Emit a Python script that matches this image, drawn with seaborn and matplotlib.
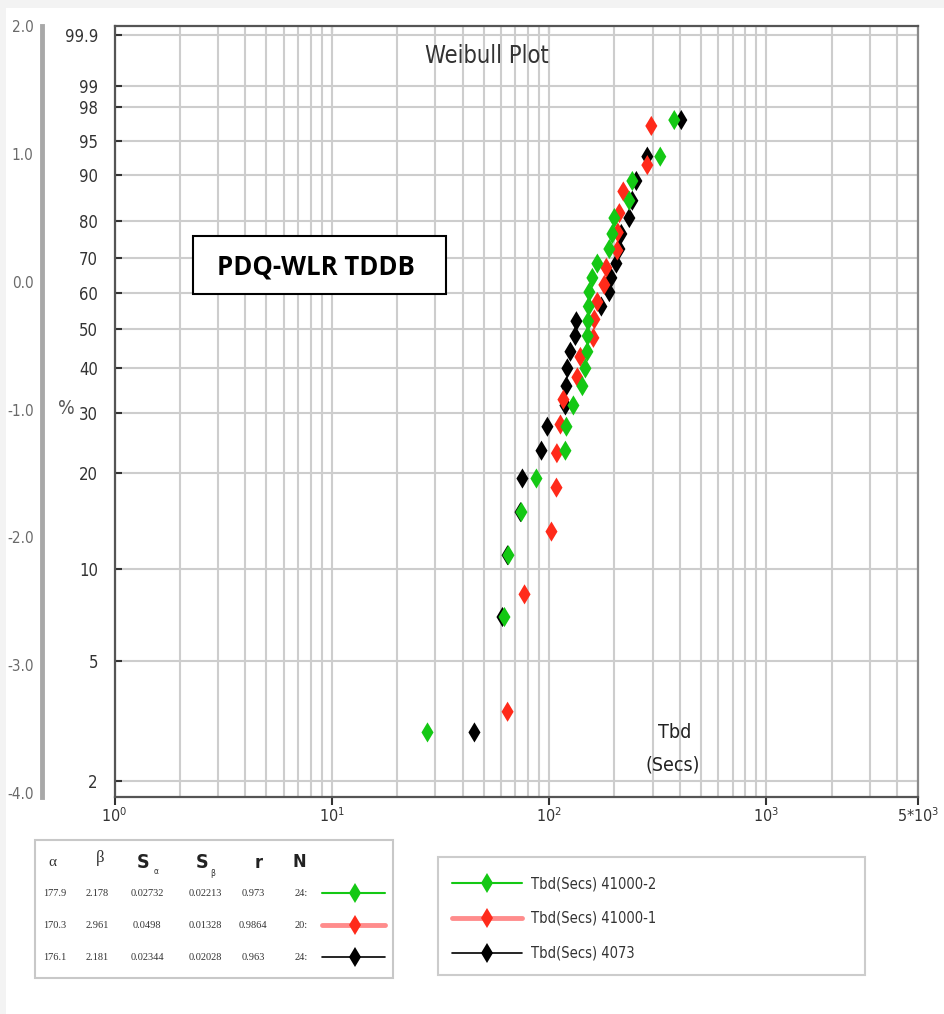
import numpy as np
import pandas as pd
import matplotlib
matplotlib.use("Agg")
import matplotlib.pyplot as plt
import seaborn as sns
from matplotlib import font_manager
from matplotlib.lines import Line2D
from matplotlib.patches import Rectangle
from matplotlib.ticker import NullFormatter, NullLocator, LogLocator

sns.set_theme(style="white")
_names = {f.name for f in font_manager.fontManager.ttflist}
NARROW = "Liberation Sans Narrow" if "Liberation Sans Narrow" in _names else "DejaVu Sans"
plt.rcParams["font.family"] = [NARROW, "DejaVu Sans"]
plt.rcParams["font.stretch"] = "condensed"

# ---------------- data ----------------
series_names = ["Tbd(Secs) 41000-2", "Tbd(Secs) 41000-1", "Tbd(Secs) 4073"]
series_colors = ["#14c814", "#ff2a1a", "#000000"]
legend_line_colors = ["#14c814", "#ff8c8c", "#000000"]

green_time = [27.6, 62.4, 65.1, 74.7, 87.6, 119.1, 120.4, 129.6, 142.6, 147.2, 150.3, 150.8,
              151.5, 152.5, 153.5, 158.5, 167.1, 189.7, 195.9, 200.1, 234.5, 242.1, 325.5, 377.6]
green_pct = [2.9, 7.0, 11.1, 15.2, 19.3, 23.4, 27.5, 31.6, 35.7, 39.8, 43.9, 48.0,
             52.0, 56.1, 60.2, 64.3, 68.4, 72.5, 76.6, 80.7, 84.8, 88.9, 93.0, 97.1]

red_time = [64.5, 77.2, 102.7, 108.3, 108.8, 113.0, 116.6, 135.2, 139.6, 160.2,
            161.9, 167.1, 179.9, 183.8, 206.5, 207.5, 211.0, 220.0, 283.8, 296.0]
red_pct = [3.4, 8.3, 13.2, 18.1, 23.0, 27.9, 32.8, 37.7, 42.6, 47.5,
           52.5, 57.4, 62.3, 67.2, 72.1, 77.0, 81.9, 86.8, 91.7, 96.6]

black_time = [45.4, 61.1, 64.5, 74.0, 75.5, 92.4, 98.4, 119.1, 120.4, 121.6, 125.6, 132.4,
              133.8, 174.3, 189.7, 193.8, 204.4, 211.0, 215.4, 234.5, 242.1, 252.6, 283.8, 406.7]
black_pct = [2.9, 7.0, 11.1, 15.2, 19.3, 23.4, 27.5, 31.6, 35.7, 39.8, 43.9, 48.0,
             52.0, 56.1, 60.2, 64.3, 68.4, 72.5, 76.6, 80.7, 84.8, 88.9, 93.0, 97.1]

pct_ticks = [2, 5, 10, 20, 30, 40, 50, 60, 70, 80, 90, 95, 98, 99, 99.9]
pct_labels = ["2", "5", "10", "20", "30", "40", "50", "60", "70", "80", "90", "95", "98", "99", "99.9"]
weib_ticks = [-4, -3, -2, -1, 0, 1, 2]
weib_labels = ["-4.0", "-3.0", "-2.0", "-1.0", "0.0", "1.0", "2.0"]
x_ticks = [1, 10, 100, 1000, 5000]
x_labels = [r"$\mathregular{10^{0}}$", r"$\mathregular{10^{1}}$", r"$\mathregular{10^{2}}$",
            r"$\mathregular{10^{3}}$", r"$\mathregular{5{*}10^{3}}$"]

table_header = ["α", "β", "S", "S", "r", "N"]
table_rows = [
    ["177.9", "2.178", "0.02732", "0.02213", "0.973", "24:"],
    ["170.3", "2.961", "0.0498", "0.01328", "0.9864", "20:"],
    ["176.1", "2.181", "0.02344", "0.02028", "0.963", "24:"],
]

# ---------------- figure ----------------
W_PX, H_PX = 944, 1014
fig = plt.figure(figsize=(W_PX / 100, H_PX / 100), dpi=100)
fig.patch.set_facecolor("#f3f3f3")


def P(x, y):
    return (x / W_PX, 1 - y / H_PX)


fig.add_artist(Rectangle((6 / W_PX, 0), 1, 1 - 8 / H_PX, transform=fig.transFigure,
                         facecolor="white", edgecolor="none", zorder=-5))

L, R, T, B = 114.5, 918, 26, 797
ax = fig.add_axes([L / W_PX, 1 - B / H_PX, (R - L) / W_PX, (B - T) / H_PX])

df = pd.concat([
    pd.DataFrame({"time": black_time, "pct": black_pct, "series": series_names[2]}),
    pd.DataFrame({"time": red_time, "pct": red_pct, "series": series_names[1]}),
    pd.DataFrame({"time": green_time, "pct": green_pct, "series": series_names[0]}),
], ignore_index=True)

sns.scatterplot(data=df, x="time", y="pct", hue="series", hue_order=series_names,
                palette=dict(zip(series_names, series_colors)), marker="d", s=105,
                linewidth=0, legend=False, ax=ax, zorder=3)


def fwd(p):
    p = np.asarray(p, dtype=float)
    with np.errstate(all="ignore"):
        return np.log(-np.log(1 - p / 100.0))


def inv(y):
    y = np.asarray(y, dtype=float)
    with np.errstate(all="ignore"):
        return 100.0 * (1 - np.exp(-np.exp(y)))


ax.set_xscale("log")
ax.set_xlim(1, 5000)
ax.set_yscale("function", functions=(fwd, inv))
ax.set_ylim(float(inv(-4.031)), float(inv(2.0)))
ax.set_yticks(pct_ticks)
ax.set_yticklabels(pct_labels)
ax.yaxis.set_minor_locator(NullLocator())
ax.set_xticks(x_ticks)
ax.set_xticklabels(x_labels)
ax.xaxis.set_minor_locator(LogLocator(base=10, subs=np.arange(2, 10), numticks=60))
ax.xaxis.set_minor_formatter(NullFormatter())
ax.set_xlabel("")
ax.set_ylabel("")

ax.grid(True, which="major", axis="both", color="#cdcdcd", lw=1.5, zorder=0)
ax.grid(True, which="minor", axis="x", color="#cdcdcd", lw=1.5, zorder=0)
ax.set_axisbelow(True)

ax.tick_params(axis="x", which="major", direction="out", length=6, width=1.5,
               color="#333333", labelsize=11.5, labelcolor="#333333", pad=1, bottom=True)
ax.tick_params(axis="x", which="minor", length=0)
ax.tick_params(axis="y", which="major", direction="in", length=5, width=1.5,
               color="#333333", labelsize=12, labelcolor="#333333", pad=12, left=True)
for side in ["left", "bottom", "top"]:
    ax.spines[side].set_color("#555555")
    ax.spines[side].set_linewidth(1.6)
ax.spines["right"].set_color("#8a8a8a")
ax.spines["right"].set_linewidth(1.6)

sec = ax.secondary_xaxis("top")
sec.set_xticks([10, 100, 1000])
sec.set_xticklabels([])
sec.xaxis.set_minor_locator(NullLocator())
sec.tick_params(axis="x", direction="in", length=5, width=1.5, color="#333333")
sec.spines["top"].set_visible(False)

# outer Weibull-unit scale
ax0 = fig.add_axes([42 / W_PX, 1 - B / H_PX, 0.0001, (B - T) / H_PX])
ax0.patch.set_visible(False)
ax0.set_ylim(-4.031, 2.0)
ax0.set_yticks(weib_ticks)
ax0.set_yticklabels(weib_labels)
ax0.set_xticks([])
for side in ["right", "top", "bottom"]:
    ax0.spines[side].set_visible(False)
ax0.spines["left"].set_color("#a8a8a8")
ax0.spines["left"].set_linewidth(3.5)
ax0.tick_params(axis="y", direction="in", length=7, width=1.5, color="#444444",
                labelsize=11, labelcolor="#6a6a6a", pad=6)

fig.text(*P(66, 408), "%", fontsize=14, color="#555555", ha="center", va="center")

# title and annotations
fig.text(*P(487, 56), "Weibull Plot", fontsize=17, color="#333333", ha="center", va="center")
fig.text(*P(675, 732), "Tbd", fontsize=14, color="#222222", ha="center", va="center")
fig.text(*P(673, 765), "(Secs)", fontsize=14, color="#222222", ha="center", va="center")

fig.add_artist(Rectangle(P(193, 294), (446 - 193) / W_PX, (294 - 236) / H_PX,
                         transform=fig.transFigure, facecolor="white", edgecolor="black",
                         lw=1.5, zorder=2))
fig.text(*P(316, 267), "PDQ-WLR TDDB", fontsize=18.5, fontweight="bold", fontstretch="normal",
         family=["Open Sans", "DejaVu Sans"], color="black", ha="center", va="center",
         zorder=3)

# ---------------- parameter table (bottom left) ----------------
fig.add_artist(Rectangle(P(35, 978), (393 - 35) / W_PX, (978 - 840) / H_PX,
                         transform=fig.transFigure, facecolor="white", edgecolor="#c8c8c8",
                         lw=1.5, zorder=2))
hy = 862
fig.text(*P(52, hy), table_header[0], fontsize=11, family=["Liberation Serif", "DejaVu Serif"],
         color="#333333", ha="center", va="center", zorder=3)
fig.text(*P(100, hy - 4), table_header[1], fontsize=12, family=["Liberation Serif", "DejaVu Serif"],
         color="#333333", ha="center", va="center", zorder=3)
fig.text(*P(143, hy), table_header[2], fontsize=14, fontweight="bold", color="#222222",
         ha="center", va="center", zorder=3)
fig.text(*P(156, hy + 10), "α", fontsize=6, color="#333333", ha="center", va="center", zorder=3)
fig.text(*P(202, hy), table_header[3], fontsize=14, fontweight="bold", color="#222222",
         ha="center", va="center", zorder=3)
fig.text(*P(213, hy + 11), "β", fontsize=6, color="#333333", ha="center", va="center", zorder=3)
fig.text(*P(259, hy + 1), table_header[4], fontsize=13, fontweight="bold", color="#222222",
         ha="center", va="center", zorder=3)
fig.text(*P(299, hy), table_header[5], fontsize=13, fontweight="bold", color="#222222",
         ha="center", va="center", zorder=3)

col_x = [55, 97, 147, 205, 253, 301]
row_y = [893, 925, 957]
for row, yy, c, lc, lw in zip(table_rows, row_y, series_colors, legend_line_colors, [1.5, 3.5, 1.2]):
    for val, xx in zip(row, col_x):
        fig.text(*P(xx, yy), val, fontsize=7.5, family=["Liberation Serif", "DejaVu Serif"],
                 color="#333333", ha="center", va="center", zorder=3)
    x0, _ = P(322, yy)
    x1, yf = P(385, yy)
    fig.add_artist(Line2D([x0, x1], [yf, yf], transform=fig.transFigure, color=lc, lw=lw, zorder=3))
    xm, _ = P(355, yy)
    fig.add_artist(Line2D([xm], [yf], transform=fig.transFigure, color=c, marker="d",
                          markersize=10, markeredgewidth=0, linestyle="none", zorder=4))

# ---------------- series legend (bottom right) ----------------
fig.add_artist(Rectangle(P(438, 975), (865 - 438) / W_PX, (975 - 857) / H_PX,
                         transform=fig.transFigure, facecolor="white", edgecolor="#cccccc",
                         lw=1.5, zorder=2))
handles = [Line2D([], [], color=lc, lw=lw, marker="d", markersize=10, markerfacecolor=c,
                  markeredgecolor=c, markeredgewidth=0)
           for c, lc, lw in zip(series_colors, legend_line_colors, [1.5, 3.5, 1.2])]
leg = fig.legend(handles, series_names, loc="upper left", bbox_to_anchor=P(445, 869),
                 frameon=False, borderpad=0, handlelength=4.8, handletextpad=0.6,
                 labelspacing=1.35, fontsize=10.5)
leg.set_zorder(5)
for t in leg.get_texts():
    t.set_color("#333333")

fig.savefig("out.png", dpi=100, facecolor=fig.get_facecolor())
